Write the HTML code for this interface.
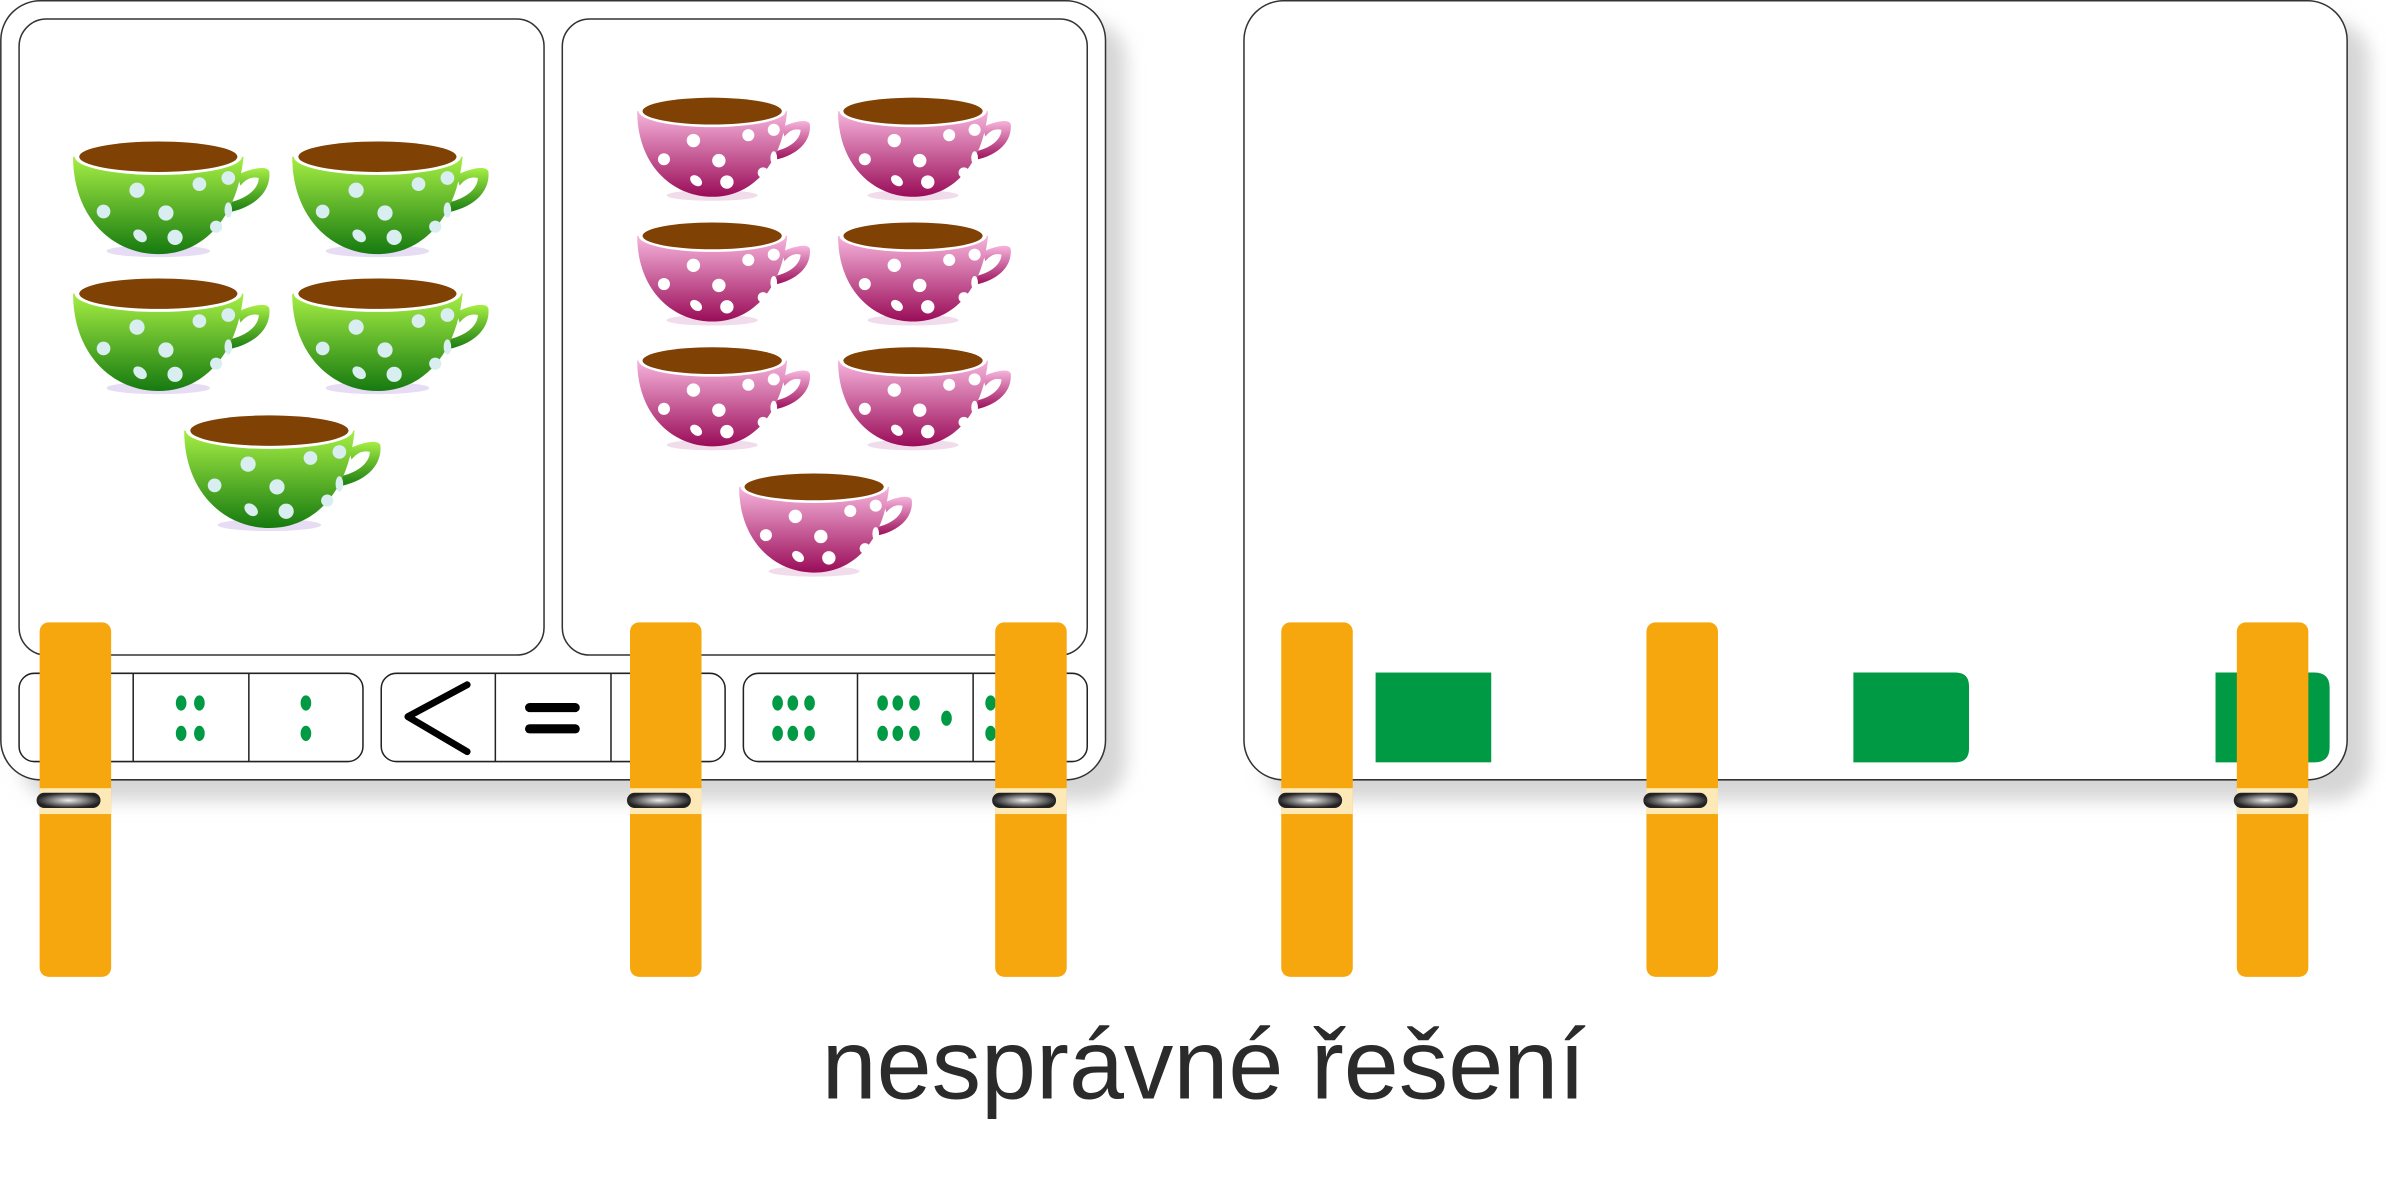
<!DOCTYPE html>
<html><head><meta charset="utf-8"><style>
html,body{margin:0;padding:0;background:#fff;width:2386px;height:1180px;overflow:hidden}
svg{display:block}
</style></head><body>
<svg width="2386" height="1180" viewBox="0 0 1568 775.5" xmlns="http://www.w3.org/2000/svg">
<defs>
<linearGradient id="gg" x1="0" y1="0" x2="0" y2="1"><stop offset="0" stop-color="#a6ee44"/><stop offset="1" stop-color="#167a10"/></linearGradient>
<linearGradient id="pg" x1="0" y1="0" x2="0" y2="1"><stop offset="0" stop-color="#f6b4dc"/><stop offset="1" stop-color="#9a0c58"/></linearGradient>
<filter id="bl" x="-10%" y="-10%" width="130%" height="130%"><feGaussianBlur stdDeviation="6"/></filter>
<radialGradient id="pin" cx="0.5" cy="0.5" r="0.5"><stop offset="0" stop-color="#eee"/><stop offset="1" stop-color="#222"/></radialGradient>
<g id="cupg">
<ellipse cx="0" cy="62" rx="34" ry="4" fill="#e6dcf4"/>
<path d="M52,12 C60,8 72,5 73,10 C74,24 62,34 44,37 L47,30 C60,27 66,20 66,14 C62,13 58,14 54,19 Z" fill="url(#gg)"/>
<path d="M-56,0 C-56,40 -30,64 0,64 C30,64 52,40 56,0 Z" fill="url(#gg)"/>
<ellipse cx="0" cy="0" rx="55" ry="12" fill="#fff"/>
<ellipse cx="0" cy="0" rx="52" ry="10" fill="#7f4104"/>
<g fill="#d8eef0"><circle cx="-36" cy="36" r="4.5"/><circle cx="-14" cy="22" r="5"/><circle cx="27" cy="18" r="4.5"/><circle cx="5" cy="37" r="5"/><circle cx="11" cy="53" r="5"/><ellipse cx="-12" cy="52" rx="3.5" ry="5" transform="rotate(-50 -12 52)"/><circle cx="38" cy="46" r="4"/><circle cx="46" cy="14" r="4.5"/><ellipse cx="46" cy="35" rx="2.5" ry="5"/></g>
</g>
<g id="cupp">
<ellipse cx="0" cy="63" rx="34" ry="4" fill="#f0dcea"/>
<path d="M52,12 C60,8 72,5 73,10 C74,24 62,34 44,37 L47,30 C60,27 66,20 66,14 C62,13 58,14 54,19 Z" fill="url(#pg)"/>
<path d="M-56,0 C-56,40 -30,64 0,64 C30,64 52,40 56,0 Z" fill="url(#pg)"/>
<ellipse cx="0" cy="0" rx="55" ry="12" fill="#fff"/>
<ellipse cx="0" cy="0" rx="52" ry="10" fill="#7f4104"/>
<g fill="#fff"><circle cx="-36" cy="36" r="4.5"/><circle cx="-14" cy="22" r="5"/><circle cx="27" cy="18" r="4.5"/><circle cx="5" cy="37" r="5"/><circle cx="11" cy="53" r="5"/><ellipse cx="-12" cy="52" rx="3.5" ry="5" transform="rotate(-50 -12 52)"/><circle cx="38" cy="46" r="4"/><circle cx="46" cy="14" r="4.5"/><ellipse cx="46" cy="35" rx="2.5" ry="5"/></g>
</g>
<g id="clip">
<rect x="0" y="409" width="47" height="233" rx="6" fill="#f6a70d"/>
<rect x="0" y="518" width="47" height="17" fill="#fde9b8"/>
<rect x="-2" y="521" width="42" height="10" rx="5" fill="url(#pin)"/>
</g>
</defs>

<rect x="14" y="14" width="726" height="512" rx="25" fill="#d6d6d6" filter="url(#bl)"/>
<rect x="831" y="14" width="726" height="512" rx="25" fill="#d6d6d6" filter="url(#bl)"/>

<rect x="0.5" y="0.5" width="726" height="512" rx="26" fill="#fff" stroke="#333" stroke-width="1"/>
<rect x="12.5" y="12.5" width="345" height="418" rx="18" fill="#fff" stroke="#333" stroke-width="1"/>
<rect x="369.5" y="12.5" width="345" height="418" rx="18" fill="#fff" stroke="#333" stroke-width="1"/>

<use href="#cupg" x="104" y="103"/>
<use href="#cupg" x="248" y="103"/>
<use href="#cupg" x="104" y="193"/>
<use href="#cupg" x="248" y="193"/>
<use href="#cupg" x="177" y="283"/>

<g transform="translate(468,73) scale(0.88)"><use href="#cupp"/></g>
<g transform="translate(600,73) scale(0.88)"><use href="#cupp"/></g>
<g transform="translate(468,155) scale(0.88)"><use href="#cupp"/></g>
<g transform="translate(600,155) scale(0.88)"><use href="#cupp"/></g>
<g transform="translate(468,237) scale(0.88)"><use href="#cupp"/></g>
<g transform="translate(600,237) scale(0.88)"><use href="#cupp"/></g>
<g transform="translate(535,320) scale(0.88)"><use href="#cupp"/></g>

<g fill="#fff" stroke="#222" stroke-width="1">
<rect x="12.5" y="442.5" width="226" height="58" rx="10"/>
<line x1="87.5" y1="442.5" x2="87.5" y2="500.5"/><line x1="163.5" y1="442.5" x2="163.5" y2="500.5"/>
<rect x="250.5" y="442.5" width="226" height="58" rx="10"/>
<line x1="325.5" y1="442.5" x2="325.5" y2="500.5"/><line x1="401.5" y1="442.5" x2="401.5" y2="500.5"/>
<rect x="488.5" y="442.5" width="226" height="58" rx="10"/>
<line x1="563.5" y1="442.5" x2="563.5" y2="500.5"/><line x1="639.5" y1="442.5" x2="639.5" y2="500.5"/>
</g>
<g fill="#009a44">
<ellipse cx="119" cy="462" rx="3.5" ry="5"/><ellipse cx="131" cy="462" rx="3.5" ry="5"/><ellipse cx="119" cy="482" rx="3.5" ry="5"/><ellipse cx="131" cy="482" rx="3.5" ry="5"/>
<ellipse cx="201" cy="462" rx="3.5" ry="5"/><ellipse cx="201" cy="482" rx="3.5" ry="5"/>
<ellipse cx="511" cy="462" rx="3.5" ry="5"/><ellipse cx="521" cy="462" rx="3.5" ry="5"/><ellipse cx="532" cy="462" rx="3.5" ry="5"/>
<ellipse cx="511" cy="482" rx="3.5" ry="5"/><ellipse cx="521" cy="482" rx="3.5" ry="5"/><ellipse cx="532" cy="482" rx="3.5" ry="5"/>
<ellipse cx="580" cy="462" rx="3.5" ry="5"/><ellipse cx="590" cy="462" rx="3.5" ry="5"/><ellipse cx="601" cy="462" rx="3.5" ry="5"/>
<ellipse cx="580" cy="482" rx="3.5" ry="5"/><ellipse cx="590" cy="482" rx="3.5" ry="5"/><ellipse cx="601" cy="482" rx="3.5" ry="5"/>
<ellipse cx="622" cy="472" rx="3.5" ry="5"/>
<ellipse cx="651" cy="462" rx="3.5" ry="5"/><ellipse cx="651" cy="482" rx="3.5" ry="5"/><ellipse cx="683" cy="462" rx="3.5" ry="5"/><ellipse cx="683" cy="482" rx="3.5" ry="5"/>
</g>
<polyline points="307,450 268,471 307,494" fill="none" stroke="#000" stroke-width="4.5" stroke-linecap="round" stroke-linejoin="round"/>
<line x1="348" y1="465" x2="378" y2="465" stroke="#000" stroke-width="6" stroke-linecap="round"/>
<line x1="348" y1="479" x2="378" y2="479" stroke="#000" stroke-width="6" stroke-linecap="round"/>

<rect x="817.5" y="0.5" width="725" height="512" rx="26" fill="#fff" stroke="#333" stroke-width="1"/>
<rect x="904" y="442" width="76" height="59" fill="#009a44"/>
<path d="M1218,442 H1285 Q1294,442 1294,451 V492 Q1294,501 1285,501 H1218 Z" fill="#009a44"/>
<path d="M1456,442 H1521 Q1531,442 1531,452 V491 Q1531,501 1521,501 H1456 Z" fill="#009a44"/>

<use href="#clip" x="26"/>
<use href="#clip" x="414"/>
<use href="#clip" x="654"/>
<use href="#clip" x="842"/>
<use href="#clip" x="1082"/>
<use href="#clip" x="1470"/>

<text x="791" y="722" text-anchor="middle" font-family="Liberation Sans, sans-serif" font-size="65" fill="#2b2b2b">nesprávné řešení</text>
</svg>
</body></html>
